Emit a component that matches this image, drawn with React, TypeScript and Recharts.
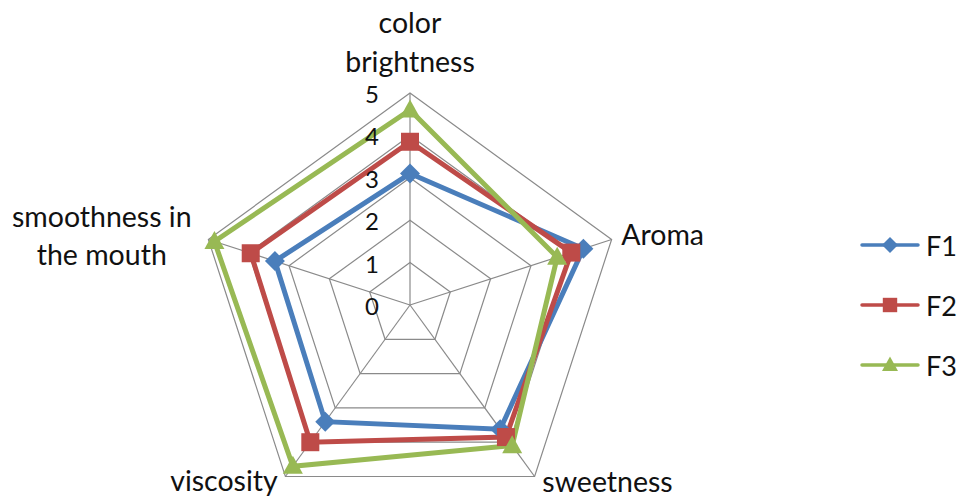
import {
  RadarChart,
  Radar,
  PolarGrid,
  PolarAngleAxis,
  PolarRadiusAxis,
  Legend,
} from "recharts";

const attributes = [
  "color brightness",
  "Aroma",
  "sweetness",
  "viscosity",
  "smoothness in the mouth",
];
const f1 = [3.1, 4.3, 3.62, 3.4, 3.35];
const f2 = [3.85, 4.0, 3.85, 4.0, 3.95];
const f3 = [4.6, 3.65, 4.1, 4.7, 4.85];
const radiusTicks = [0, 1, 2, 3, 4, 5];

const seriesNames = ["F1", "F2", "F3"];
const seriesColors: Record<string, string> = {
  F1: "#4a7ebb",
  F2: "#be4b48",
  F3: "#98b954",
};
const seriesMarkers: Record<string, string> = {
  F1: "diamond",
  F2: "square",
  F3: "triangle",
};

const data = attributes.map((attribute, i) => ({
  attribute,
  F1: f1[i],
  F2: f2[i],
  F3: f3[i],
}));

const FONT = "Lato, 'Open Sans', sans-serif";

const labelLayout: Record<
  string,
  { lines: string[]; dx: number; dy: number[]; anchor: string }
> = {
  "color brightness": {
    lines: ["color", "brightness"],
    dx: 0,
    dy: [-52, -13],
    anchor: "middle",
  },
  Aroma: { lines: ["Aroma"], dx: 2, dy: [8], anchor: "start" },
  sweetness: { lines: ["sweetness"], dx: 3, dy: [9], anchor: "start" },
  viscosity: { lines: ["viscosity"], dx: -3, dy: [8], anchor: "end" },
  "smoothness in the mouth": {
    lines: ["smoothness in", "the mouth"],
    dx: -99,
    dy: [-10, 28],
    anchor: "middle",
  },
};

function Marker({
  kind,
  cx,
  cy,
  size,
  color,
}: {
  kind: string;
  cx: number;
  cy: number;
  size: number;
  color: string;
}) {
  const h = size / 2;
  if (kind === "diamond") {
    return (
      <polygon
        points={`${cx},${cy - h} ${cx + h},${cy} ${cx},${cy + h} ${cx - h},${cy}`}
        fill={color}
      />
    );
  }
  if (kind === "square") {
    return (
      <rect
        x={cx - h * 0.9}
        y={cy - h * 0.9}
        width={h * 1.8}
        height={h * 1.8}
        fill={color}
      />
    );
  }
  return (
    <polygon
      points={`${cx},${cy - h * 1.05} ${cx + h},${cy + h * 0.75} ${cx - h},${cy + h * 0.75}`}
      fill={color}
    />
  );
}

function AngleTick(props: any) {
  const { x, y, payload } = props;
  const layout = labelLayout[payload.value];
  return (
    <g>
      {layout.lines.map((line, i) => (
        <text
          key={line}
          x={x + layout.dx}
          y={y + layout.dy[i]}
          textAnchor={layout.anchor as any}
          fontFamily={FONT}
          fontSize={28.5}
          fill="#111"
        >
          {line}
        </text>
      ))}
    </g>
  );
}

function RadiusTick(props: any) {
  const { x, y, payload } = props;
  return (
    <text
      x={x - 38}
      y={y + 10}
      textAnchor="middle"
      fontFamily={FONT}
      fontSize={24}
      fill="#111"
    >
      {payload.value}
    </text>
  );
}

function LegendContent() {
  return (
    <div style={{ fontFamily: FONT }}>
      {seriesNames.map((name) => (
        <div
          key={name}
          style={{ height: 60, display: "flex", alignItems: "center" }}
        >
          <svg width={64} height={24}>
            <line
              x1={2}
              y1={12}
              x2={58}
              y2={12}
              stroke={seriesColors[name]}
              strokeWidth={3.5}
              strokeLinecap="round"
            />
            <Marker
              kind={seriesMarkers[name]}
              cx={30}
              cy={12}
              size={16}
              color={seriesColors[name]}
            />
          </svg>
          <span style={{ fontSize: 27, color: "#111", marginLeft: 2 }}>
            {name}
          </span>
        </div>
      ))}
    </div>
  );
}

export default function App() {
  return (
    <div style={{ background: "#fff", width: 962, height: 497 }}>
      <style>{"body{margin:0}"}</style>
      <RadarChart
        width={962}
        height={497}
        data={data}
        cx={410}
        cy={305}
        outerRadius={212}
        margin={{ top: 0, right: 0, bottom: 0, left: 0 }}
      >
        <PolarGrid gridType="polygon" stroke="#8a8a8a" strokeWidth={1.2} />
        <PolarAngleAxis
          dataKey="attribute"
          tick={<AngleTick />}
          tickLine={false}
          axisLine={false}
        />
        <PolarRadiusAxis
          angle={90}
          domain={[0, 5]}
          ticks={radiusTicks as any}
          tickCount={6}
          tick={<RadiusTick />}
          axisLine={false}
          tickLine={false}
        />
        {seriesNames.map((name) => (
          <Radar
            key={name}
            name={name}
            dataKey={name}
            stroke={seriesColors[name]}
            strokeWidth={5}
            fill="none"
            fillOpacity={0}
            isAnimationActive={false}
            dot={(p: any) => (
              <Marker
                key={`${name}-${p.index}`}
                kind={seriesMarkers[name]}
                cx={p.cx}
                cy={p.cy}
                size={20}
                color={seriesColors[name]}
              />
            )}
          />
        ))}
        <Legend
          layout="vertical"
          content={<LegendContent />}
          wrapperStyle={{ position: "absolute", left: 860, top: 215, width: 100 }}
        />
      </RadarChart>
    </div>
  );
}
